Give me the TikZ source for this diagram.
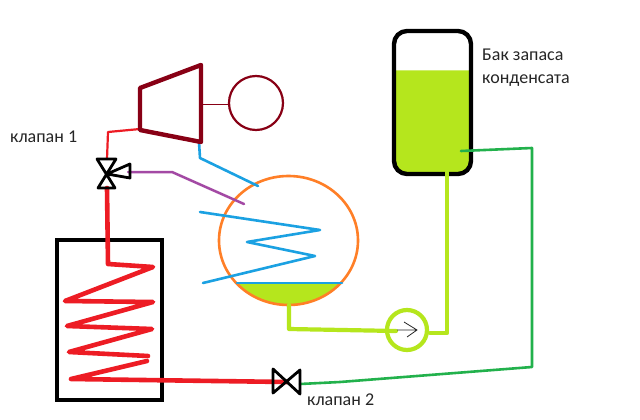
\documentclass[tikz,border=0pt]{standalone}
\usepackage{fontspec}
\setmainfont{Carlito}
\definecolor{cRed}{HTML}{ED1C24}
\definecolor{cMaroon}{HTML}{880015}
\definecolor{cBlue}{HTML}{1BA1E2}
\definecolor{cOrange}{HTML}{FF7F27}
\definecolor{cLime}{HTML}{B5E61D}
\definecolor{cGreen}{HTML}{22B14C}
\definecolor{cPurple}{HTML}{A349A4}
\definecolor{cText}{HTML}{262626}
\tikzset{
  pipe/.style={line join=round,line cap=round},
  redthick/.style={pipe,draw=cRed,line width=4.6pt},
  redthin/.style={pipe,draw=cRed,line width=2.2pt},
  maroon/.style={pipe,draw=cMaroon,line width=4.4pt},
  bluepipe/.style={pipe,draw=cBlue,line width=2.6pt},
  limepipe/.style={pipe,draw=cLime,line width=4.2pt},
  greenpipe/.style={pipe,draw=cGreen,line width=2.6pt},
  purplepipe/.style={pipe,draw=cPurple,line width=2.5pt},
  valvebody/.style={pipe,draw=black,line width=2.8pt},
  lbl/.style={inner sep=0pt,anchor=base west,text=cText,font=\fontsize{18}{20}\selectfont}
}
\begin{document}
\begin{tikzpicture}[x=1pt,y=-1pt]
\useasboundingbox (0,0) rectangle (640,420);
\fill[white] (0,0) rectangle (640,420);
% coordinates
\coordinate (valveA) at (107,174);
\coordinate (valveB) at (287,382);
\coordinate (turbIn) at (140,129);
\coordinate (turbOut) at (199,142);
\coordinate (sump) at (289,305);
\coordinate (pumpC) at (407,330);
\coordinate (tankBot) at (447,172);
\coordinate (tankTap) at (461,151);
% tank
\fill[cLime] (395,70.5) -- (471,70.5) -- (471,162) arc[start angle=0,end angle=90,radius=12] -- (406,174) arc[start angle=90,end angle=180,radius=12] -- cycle;
\draw[black,line width=4.4pt,rounded corners=13pt] (394,31) rectangle (471,174);
% heater
\draw[black,line width=4.4pt,line join=miter] (57,240) rectangle (162,400);
% coil and steam line
\draw[redthick] (107,188) -- (108,264) -- (153,267) -- (65,301) -- (153,302) -- (67,326) -- (152,329) -- (69,352) -- (148,356);
\draw[redthick] (147,361) -- (71,379) -- (valveB);
\draw[redthin] (valveA) ++(0,-15) -- (108,132) -- (turbIn);
% condenser
\fill[cLime] (236.2,283) -- (340.8,283) arc[x radius=69.5,y radius=64.5,start angle=41.2,end angle=138.8] -- cycle;
\draw[cOrange,line width=2.6pt] (288.5,240.5) ellipse[x radius=69.5,y radius=64.5];
\draw[bluepipe] (237,283) -- (342,283);
\draw[bluepipe] (200,212) -- (320,230) -- (247,242) -- (315,256) -- (203,283);
\draw[bluepipe] (turbOut) -- (200,158) -- (258,186);
\draw[purplepipe] (128,172) -- (172,172) -- (244,204);
% condensate
\draw[limepipe] (sump) -- (289,329) -- (396,331);
\draw[limepipe] (430,333) -- (447,333) -- (tankBot);
\draw[limepipe] (pumpC) circle[radius=20];
\draw[cText,line width=.8pt] (397,330) -- (417,330) (404,322) -- (417,330) -- (407,337);
% feed return
\draw[greenpipe] (300,384) -- (340,382) -- (532,367) -- (532,148) -- (tankTap);
% turbine + generator
\draw[maroon] (140,88) -- (201,65) -- (201,142) -- (140,130) -- cycle;
\draw[cMaroon,line width=1pt] (203,104) -- (228,104);
\draw[cMaroon,line width=2.2pt] (256,103) circle[radius=27];
% valves
\draw[valvebody] (97,159) -- (116,159) -- (98,188) -- (115,188) -- cycle;
\draw[valvebody] (valveA) -- (130,164) -- (130,178) -- cycle;
\draw[valvebody] (273,369) -- (273,393) -- (300,370) -- (300,394) -- cycle;
% labels
\node[lbl] (lblTank) at (482,61) {Бак запаса};
\node[lbl] (lblCond) at (482,84) {конденсата};
\node[lbl] (lblV1) at (10,142) {клапан 1};
\node[lbl] (lblV2) at (307,405) {клапан 2};
\end{tikzpicture}
\end{document}
